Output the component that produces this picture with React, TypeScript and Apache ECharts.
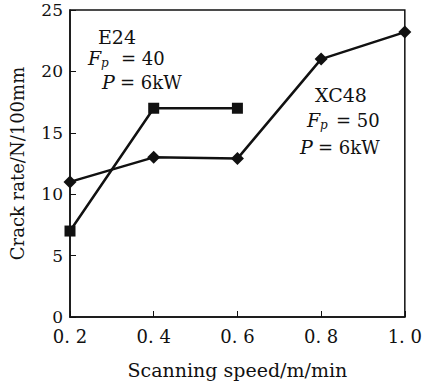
import React, { useEffect, useRef } from "react";
import * as echarts from "echarts";

const speeds = ["0. 2", "0. 4", "0. 6", "0. 8", "1. 0"];
const e24 = [7, 17, 17, null, null];
const xc48 = [11, 13, 12.9, 21, 23.2];
const yTicks = [0, 5, 10, 15, 20, 25];

const FONT = "DejaVu Serif";
const INK = "#111";

export default function App() {
  const ref = useRef<HTMLDivElement>(null);
  useEffect(() => {
    document.body.style.margin = "0";
    if (!ref.current) return;
    const chart = echarts.init(ref.current, null, { renderer: "svg" });
    const t = (x: number, y: number, text: string, size: number, italic = false) => ({
      type: "text",
      x,
      y,
      style: {
        text,
        fontFamily: FONT,
        fontSize: size,
        fontStyle: italic ? "italic" : "normal",
        fill: INK,
        verticalAlign: "middle",
      },
    });
    chart.setOption({
      animation: false,
      grid: {
        left: 61,
        right: 12,
        top: 10,
        bottom: 59,
        show: true,
        borderColor: INK,
        borderWidth: 1.5,
        backgroundColor: "transparent",
      },
      xAxis: {
        type: "category",
        data: speeds,
        boundaryGap: false,
        name: "Scanning speed/m/min",
        nameLocation: "middle",
        nameGap: 43,
        nameTextStyle: { fontFamily: FONT, fontSize: 19, color: INK },
        axisLine: { lineStyle: { color: INK, width: 1.5 } },
        axisTick: { inside: true, length: 6, lineStyle: { color: INK } },
        axisLabel: { fontFamily: FONT, fontSize: 18, color: INK, margin: 10, lineHeight: 18 },
        splitLine: { show: false },
      },
      yAxis: {
        type: "value",
        min: yTicks[0],
        max: yTicks[yTicks.length - 1],
        interval: 5,
        name: "Crack rate/N/100mm",
        nameLocation: "middle",
        nameGap: 44,
        nameTextStyle: { fontFamily: FONT, fontSize: 18, color: INK },
        axisLine: { show: true, lineStyle: { color: INK, width: 1.5 } },
        axisTick: { show: true, inside: true, length: 6, lineStyle: { color: INK } },
        axisLabel: { fontFamily: FONT, fontSize: 17, color: INK, margin: 7, lineHeight: 14 },
        splitLine: { show: false },
      },
      series: [
        {
          name: "E24",
          type: "line",
          data: e24,
          symbol: "rect",
          symbolSize: 11,
          lineStyle: { color: INK, width: 2.5 },
          itemStyle: { color: INK },
        },
        {
          name: "XC48",
          type: "line",
          data: xc48,
          symbol: "diamond",
          symbolSize: [13, 13],
          lineStyle: { color: INK, width: 2.5 },
          itemStyle: { color: INK },
        },
      ],
      graphic: [
        t(98, 37, "E24", 19),
        t(88, 58, "F", 19, true),
        t(101, 63, "p", 12, true),
        t(121, 58, "= 40", 18),
        t(102, 82, "P", 19, true),
        t(120, 82, "= 6kW", 18),
        t(315, 95, "XC48", 19),
        t(307, 120, "F", 19, true),
        t(320, 125, "p", 12, true),
        t(336, 120, "= 50", 18),
        t(300, 147, "P", 19, true),
        t(318, 147, "= 6kW", 18),
      ],
    });
    return () => chart.dispose();
  }, []);
  return <div ref={ref} style={{ width: 425, height: 384 }} />;
}
